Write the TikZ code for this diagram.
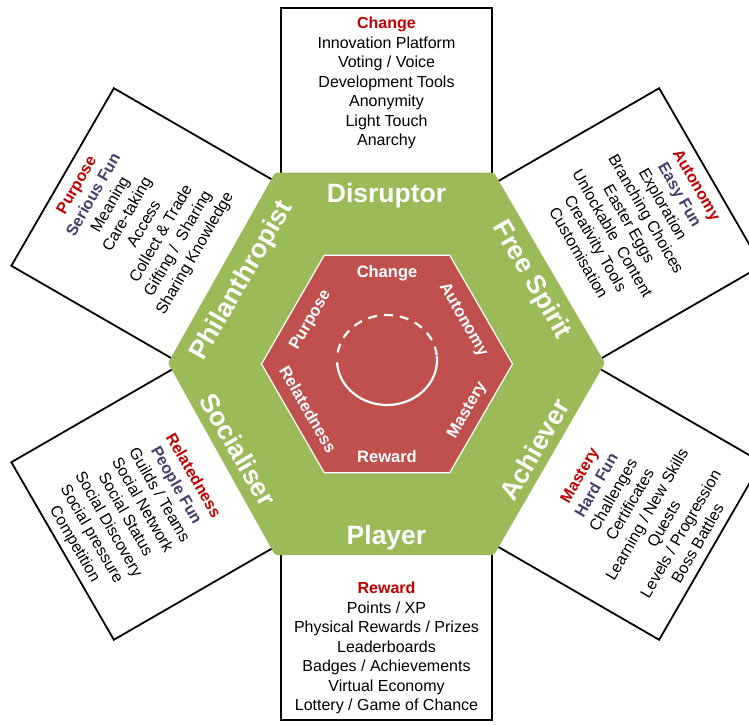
\documentclass[tikz,border=0pt]{standalone}
\usepackage{fontspec}
\setmainfont{Liberation Sans}
\usetikzlibrary{calc}
\definecolor{hexgreen}{HTML}{9BBB59}
\definecolor{hexred}{HTML}{C0504D}
\definecolor{hdred}{HTML}{C00000}
\definecolor{funpurple}{HTML}{4A3C6B}
\newcommand\hd[1]{\textcolor{hdred}{\bfseries #1}}
\newcommand\fn[1]{\textcolor{funpurple}{\bfseries #1}}
\begin{document}
\begin{tikzpicture}[x=1pt,y=1pt,
  boxframe/.style={draw=black, line width=1.8pt, fill=white},
  boxtext/.style={align=center, inner sep=0pt, text=black, font=\fontsize{16}{19.5}\selectfont},
  greenlab/.style={text=white, inner sep=0pt, text height=19pt, text depth=0pt, font=\bfseries\fontsize{26.5}{30}\selectfont},
  redlab/.style={text=white, inner sep=0pt, text height=11.9pt, text depth=0pt, font=\bfseries\fontsize{16.5}{19}\selectfont}]
\useasboundingbox (0,0) rectangle (749,724);
\fill[white] (0,0) rectangle (749,724);
\clip (0,0) rectangle (749,724);
\coordinate (C) at (386.5,360);
\coordinate (C2) at (387,360);
\coordinate (E) at (387,364);
% boxes
\foreach \ang/\hw/\D in {0/105.5/356, 60/102.5/374, 120/102.5/374, 180/105.5/356, 240/102.5/374, 300/102.5/374}{
  \draw[boxframe, shift={(C)}, rotate=\ang] (-\hw,150) -- (\hw,150) -- (\hw,\D) -- (-\hw,\D) -- cycle;
}
% green hexagon
\fill[hexgreen, rounded corners=2pt] (168,361) -- (275,551.3) -- (494,551.3) -- (605,361) -- (494,169) -- (275,169) -- cycle;
% red hexagon
\filldraw[fill=hexred, draw=white, line width=1.2pt] (512.5,360) -- (449.75,468.7) -- (324.25,468.7) -- (261.5,360) -- (324.25,251.3) -- (449.75,251.3) -- cycle;
% circle
\draw[white, line width=2.2pt] (E) ++(183:50 and 45) arc[start angle=183, end angle=365, x radius=50, y radius=45];
\draw[white, line width=2.2pt, dash pattern=on 9pt off 7pt] (E) ++(6:50 and 45) arc[start angle=6, end angle=178, x radius=50, y radius=45];
% green labels
\node[greenlab] (dis) at ($(C)+(90:171)$) {Disruptor};
\node[greenlab, rotate=-60] (fre) at ($(C)+(30:170)$) {Free Spirit};
\node[greenlab, rotate=60] (ach) at ($(C)+(-30:171)$) {Achiever};
\node[greenlab] (pla) at ($(C)+(270:171)$) {Player};
\node[greenlab, rotate=-60] (soc) at ($(C)+(210:171)$) {Socialiser};
\node[greenlab, rotate=60] (phi) at ($(C)+(150:169)$) {Philanthropist};
% red labels
\node[redlab] (ich) at ($(C2)+(90:92)$) {Change};
\node[redlab, rotate=-60] (iau) at ($(C2)+(30:90)$) {Autonomy};
\node[redlab, rotate=60] (ima) at ($(C2)+(-30:91)$) {Mastery};
\node[redlab] (ire) at ($(C2)+(270:93)$) {Reward};
\node[redlab, rotate=-60] (irl) at ($(C2)+(210:91)$) {Relatedness};
\node[redlab, rotate=60] (ipu) at ($(C2)+(150:90)$) {Purpose};
% box texts
\node[boxtext, anchor=north] (tdis) at ($(C)+(90:348.85)$) {\strut\hd{Change}\\Innovation Platform\\Voting / Voice\\Development Tools\\Anonymity\\Light Touch\\Anarchy\strut};
\node[boxtext, anchor=north, rotate=60] (tphi) at ($(C)+(150:366.85)$) {\strut\hd{Purpose}\\\fn{Serious Fun}\\Meaning\\Care-taking\\Access\\Collect \& Trade\\Gifting /\ \ Sharing\\Sharing Knowledge\strut};
\node[boxtext, anchor=north, rotate=-60] (tfre) at ($(C)+(30:366.85)$) {\strut\hd{Autonomy}\\\fn{Easy Fun}\\Exploration\\Branching Choices\\Easter Eggs\\Unlockable\ \ Content\\Creativity Tools\\Customisation\strut};
\node[boxtext, anchor=south, rotate=-60] (tsoc) at ($(C)+(210:370.65)$) {\strut\hd{Relatedness}\\\fn{People Fun}\\Guilds / Teams\\Social Network\\Social Status\\Social Discovery\\Social pressure\\Competition\strut};
\node[boxtext, anchor=south, rotate=60] (tach) at ($(C)+(330:370.65)$) {\strut\hd{Mastery}\\\fn{Hard Fun}\\Challenges\\Certificates\\Learning / New Skills\\Quests\\Levels / Progression\\Boss Battles\strut};
\node[boxtext, anchor=south] (tpla) at ($(C)+(270:352.65)$) {\strut\hd{Reward}\\Points / XP\\Physical Rewards / Prizes\\Leaderboards\\Badges / Achievements\\Virtual Economy\\Lottery / Game of Chance\strut};
\end{tikzpicture}
\end{document}
